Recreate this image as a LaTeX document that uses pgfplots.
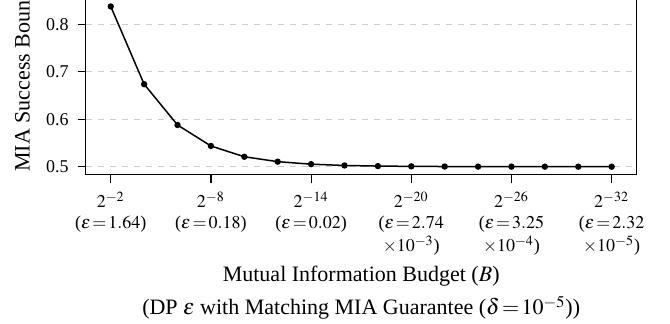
\documentclass[border=0pt]{standalone}
\usepackage{mathptmx}
\usepackage[no-math]{fontspec}
\setmainfont{Liberation Serif}
\usepackage{pgfplots}
\pgfplotsset{compat=1.18}
\newcommand{\eq}{\mkern2mu{=}\mkern2mu}
\begin{document}
\begin{tikzpicture}
\begin{axis}[
  name=ax,
  at={(0,0)}, anchor=south west,
  scale only axis, width=275.5pt, height=88.15pt,
  xmin=0.5, xmax=33.5, ymin=0.4831, ymax=0.855,
  xtick={2,8,14,20,26,32},
  xticklabels={
    {$2^{-2}$\\[-1pt]($\varepsilon\eq1.64$)},
    {$2^{-8}$\\[-1pt]($\varepsilon\eq0.18$)},
    {$2^{-14}$\\[-1pt]($\varepsilon\eq0.02$)},
    {$2^{-20}$\\[-1pt]($\varepsilon\eq2.74$\\$\times10^{-3}$)},
    {$2^{-26}$\\[-1pt]($\varepsilon\eq3.25$\\$\times10^{-4}$)},
    {$2^{-32}$\\[-1pt]($\varepsilon\eq2.32$\\$\times10^{-5}$)}},
  ytick={0.5,0.6,0.7,0.8},
  yticklabels={0.5,0.6,0.7,0.8},
  ymajorgrids,
  grid style={dashed, black!20, line width=0.5pt},
  tick align=outside, xtick pos=bottom, ytick pos=left,
  major tick length=4pt,
  tick style={black, line width=0.6pt},
  axis line style={line width=0.6pt},
  xticklabel style={align=center, font=\fontsize{9}{11.5}\selectfont, anchor=north, yshift=-1pt},
  yticklabel style={font=\fontsize{9}{11}\selectfont, xshift=-1pt},
  xlabel={Mutual Information Budget ($B$)\\(DP $\varepsilon$ with Matching MIA Guarantee ($\delta\eq10^{-5}$))},
  xlabel style={align=center, font=\fontsize{11}{16.7}\selectfont, at={(axis description cs:0.5,0)}, anchor=north, yshift=-45.5pt, inner sep=0pt},
  ylabel={MIA Success Bound},
  ylabel style={font=\fontsize{11}{13}\selectfont, at={(axis description cs:-0.1156,0.534)}, anchor=center, inner sep=0pt},
]
\addplot[black, line width=0.75pt, mark=*, mark size=1.2pt] coordinates {
  (2,0.838) (4,0.674) (6,0.588) (8,0.5437) (10,0.521) (12,0.5106)
  (14,0.5053) (16,0.5026) (18,0.5013) (20,0.5007) (22,0.50034)
  (24,0.50017) (26,0.50009) (28,0.50004) (30,0.50002) (32,0.50001)
};
\end{axis}
\pgfresetboundingbox
\useasboundingbox ([shift={(-42.85pt,-74.15pt)}]ax.south west) rectangle ([shift={(16.65pt,-0.8pt)}]ax.north east);
\end{tikzpicture}
\end{document}
